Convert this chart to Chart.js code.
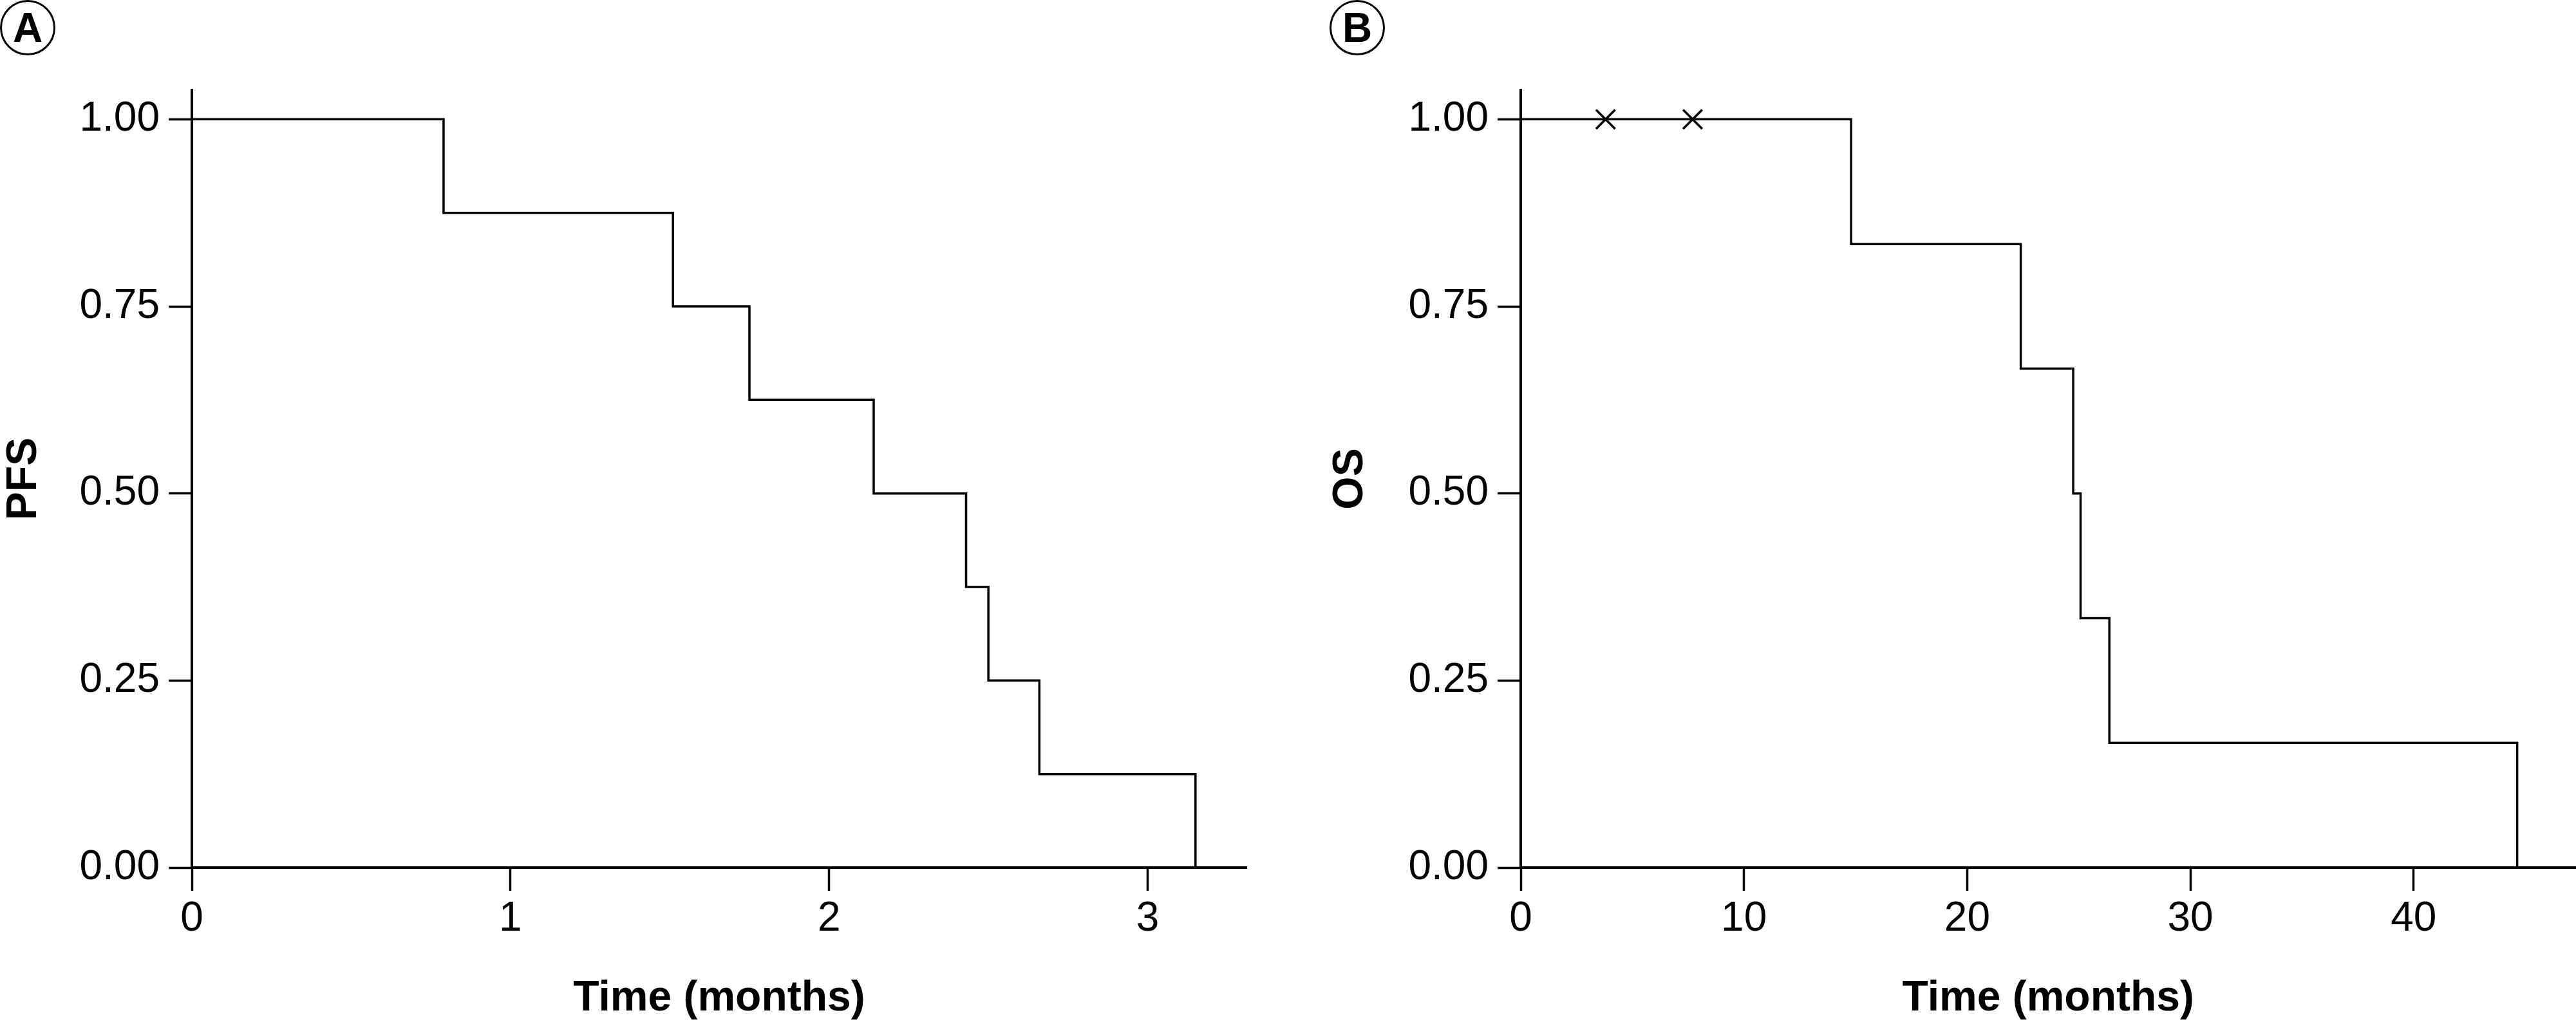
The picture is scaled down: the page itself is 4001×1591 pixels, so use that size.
<!DOCTYPE html>
<html>
<head>
<meta charset="utf-8">
<script src="https://cdn.jsdelivr.net/npm/chart.js@4"></script>
<style>
  body { margin: 0; background: #fff; width: 4001px; height: 1591px; position: relative; overflow: hidden; font-family: "Liberation Sans", Arial, sans-serif; }
  .panel { position: absolute; top: 0; }
  .letra {
    position: absolute; width: 80px; height: 80px; border: 3px solid #000; border-radius: 50%;
    font-weight: bold; font-size: 64px; line-height: 80px; text-align: center; color: #000;
  }
</style>
</head>
<body>
<div class="letra" style="left:0px;top:0px;">A</div>
<div class="letra" style="left:2065px;top:0px;">B</div>
<div class="panel" style="left:0px;"><canvas id="chartPFS" width="2000" height="1591"></canvas></div>
<!-- el eje x llega hasta el borde derecho, por eso el canvas sobresale un poco -->
<div class="panel" style="left:2000px;"><canvas id="chartOS" width="2025" height="1591"></canvas></div>
<script>
// datos
const pfsTime = [0, 0.79, 1.51, 1.75, 2.14, 2.43, 2.5, 2.66, 3.15];
const pfsSurv = [1, 0.875, 0.75, 0.625, 0.5, 0.375, 0.25, 0.125, 0];

const osTime = [0, 14.8, 22.4, 24.75, 25.08, 26.37, 44.64];
const osSurv = [1, 0.8333, 0.6667, 0.5, 0.3333, 0.1667, 0];
const osCensorTime = [3.8, 7.7];
const osCensorSurv = [1, 1];

const yTicks = [0, 0.25, 0.5, 0.75, 1];
const pfsXTicks = [0, 1, 2, 3];
const osXTicks = [0, 10, 20, 30, 40];

const fuente = "'Liberation Sans', Arial, sans-serif";
const negro = "#000";

function puntos(xs, ys) {
  return xs.map((x, i) => ({ x: x, y: ys[i] }));
}

function ejes(xTicks, xMax, yTitle, yWidth, yTitlePad) {
  return {
    x: {
      type: "linear",
      min: 0,
      max: xMax,
      afterBuildTicks: function (scale) {
        scale.ticks = xTicks.map((v) => ({ value: v }));
      },
      afterFit: function (scale) {
        scale.height = 243;
      },
      grid: { drawOnChartArea: false, drawTicks: true, tickLength: 36, tickWidth: 3.5, tickColor: negro },
      border: { display: true, color: negro, width: 4 },
      ticks: { color: negro, padding: 6, font: { family: fuente, size: 64 }, maxRotation: 0 },
      title: {
        display: true,
        text: "Time (months)",
        color: negro,
        font: { family: fuente, size: 66, weight: "bold", lineHeight: 1.1 },
        padding: { top: 0, bottom: 3 },
      },
    },
    y: {
      type: "linear",
      min: 0,
      max: 1.039,
      afterBuildTicks: function (scale) {
        scale.ticks = yTicks.map((v) => ({ value: v }));
      },
      afterFit: function (scale) {
        scale.width = yWidth;
      },
      grid: { drawOnChartArea: false, drawTicks: true, tickLength: 36, tickWidth: 3.5, tickColor: negro },
      border: { display: true, color: negro, width: 4 },
      ticks: {
        color: negro,
        padding: 14,
        font: { family: fuente, size: 64 },
        callback: function (v) {
          return Number(v).toFixed(2);
        },
      },
      title: {
        display: true,
        text: yTitle,
        color: negro,
        font: { family: fuente, size: 66, weight: "bold", lineHeight: 1.1 },
        padding: { top: yTitlePad, bottom: 0 },
      },
    },
  };
}

// Panel A: PFS
let configPFS = {
  type: "line",
  data: {
    datasets: [
      {
        label: "PFS",
        data: puntos(pfsTime, pfsSurv),
        stepped: "before",
        borderColor: negro,
        borderWidth: 3.5,
        pointRadius: 0,
        fill: false,
      },
    ],
  },
  options: {
    responsive: false,
    animation: false,
    layout: { padding: { top: 140, right: 64, left: 0, bottom: 0 } },
    plugins: { legend: { display: false }, tooltip: { enabled: false } },
    scales: ejes(pfsXTicks, 3.31, "PFS", 298, 1),
  },
};

// Panel B: OS
let configOS = {
  type: "line",
  data: {
    datasets: [
      {
        label: "OS",
        data: puntos(osTime, osSurv),
        stepped: "before",
        borderColor: negro,
        borderWidth: 3.5,
        pointRadius: 0,
        fill: false,
      },
      {
        label: "Censored",
        data: puntos(osCensorTime, osCensorSurv),
        showLine: false,
        pointStyle: "crossRot",
        pointRadius: 21,
        pointBorderWidth: 3.5,
        pointBorderColor: negro,
        borderColor: negro,
      },
    ],
  },
  options: {
    responsive: false,
    animation: false,
    layout: { padding: { top: 140, right: 0, left: 0, bottom: 0 } },
    plugins: { legend: { display: false }, tooltip: { enabled: false } },
    scales: ejes(osXTicks, 47.26, "OS", 362, 61),
  },
};

var chartPFS = new Chart(document.getElementById("chartPFS"), configPFS);
var chartOS = new Chart(document.getElementById("chartOS"), configOS);
</script>
</body>
</html>
